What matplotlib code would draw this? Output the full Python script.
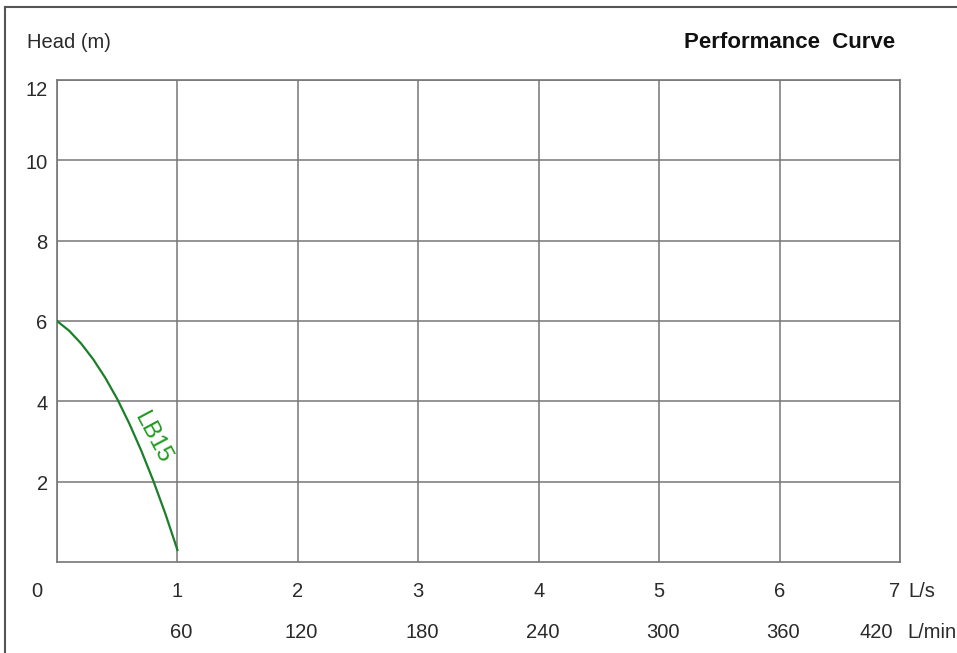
import matplotlib.pyplot as plt
from matplotlib.lines import Line2D

plt.rcParams['font.family'] = ['Liberation Sans', 'DejaVu Sans']

# LB15 pump curve: flow (L/s) vs head (m)
flow = [0.0, 0.1, 0.2, 0.3, 0.4, 0.5, 0.6, 0.7, 0.8, 0.9, 1.0]
head = [6.0, 5.76, 5.44, 5.05, 4.59, 4.06, 3.45, 2.77, 2.02, 1.20, 0.30]
curve_name = 'LB15'

flow_ls = [0, 1, 2, 3, 4, 5, 6, 7]
flow_lmin = [60, 120, 180, 240, 300, 360, 420]
head_ticks = [2, 4, 6, 8, 10, 12]

grid_c = '#767676'
text_c = '#2a2a2a'
green = '#1b7f2a'

fig = plt.figure(figsize=(9.57, 6.53), dpi=100)
ax = fig.add_axes([57 / 957, 91 / 653, 843 / 957, 482 / 653])

ax.plot(flow, head, color=green, lw=1.6, zorder=3)
ax.text(0.79, 3.1, curve_name, color='#1d9a1d', fontsize=17, rotation=-62,
        ha='center', va='center', rotation_mode='anchor')

ax.set_xlim(0, 7)
ax.set_ylim(0, 12)
ax.set_xticks(flow_ls)
ax.set_yticks(head_ticks)
ax.grid(True, color=grid_c, lw=1.1)
for s in ax.spines.values():
    s.set_color(grid_c)
    s.set_linewidth(1.2)
ax.tick_params(length=0, labelbottom=False, labelleft=False)

# y labels (top one sits a little below its gridline)
for v in head_ticks:
    y = v - 0.25 if v == 12 else v - 0.07
    ax.text(-0.011, y, str(v), ha='right', va='center', fontsize=14.5, color=text_c,
            transform=ax.get_yaxis_transform())

# x labels: L/s row and L/min row
tr = ax.get_xaxis_transform()
for v in flow_ls:
    if v == 0:
        ax.text(v - 0.17, -0.062, '0', ha='center', va='center', fontsize=14.5, color=text_c, transform=tr)
    elif v == 7:
        ax.text(v, -0.062, '7', ha='right', va='center', fontsize=14.5, color=text_c, transform=tr)
        ax.text(v + 0.07, -0.062, 'L/s', ha='left', va='center', fontsize=14.5, color=text_c, transform=tr)
    else:
        ax.text(v, -0.062, str(v), ha='center', va='center', fontsize=14.5, color=text_c, transform=tr)
for v in flow_lmin:
    x = v / 60
    if v == 420:
        ax.text(x - 0.06, -0.147, str(v), ha='right', va='center', fontsize=14.5, color=text_c, transform=tr)
        ax.text(x + 0.06, -0.147, 'L/min', ha='left', va='center', fontsize=14.5, color=text_c, transform=tr)
    else:
        ax.text(x + 0.03, -0.147, str(v), ha='center', va='center', fontsize=14.5, color=text_c, transform=tr)

fig.text(27 / 957, 1 - 42 / 653, 'Head (m)', fontsize=14.5, color=text_c, ha='left', va='center')
fig.text(895 / 957, 1 - 42 / 653, 'Performance  Curve', fontsize=16, fontweight='bold',
         color='#111111', ha='right', va='center')

# outer frame (left and top edges visible)
fig.add_artist(Line2D([5 / 957, 5 / 957], [0, 1 - 7 / 653], transform=fig.transFigure,
                      color='#555555', lw=1.5))
fig.add_artist(Line2D([5 / 957, 1], [1 - 7 / 653, 1 - 7 / 653], transform=fig.transFigure,
                      color='#555555', lw=1.5))

fig.savefig('out.png', dpi=100)
